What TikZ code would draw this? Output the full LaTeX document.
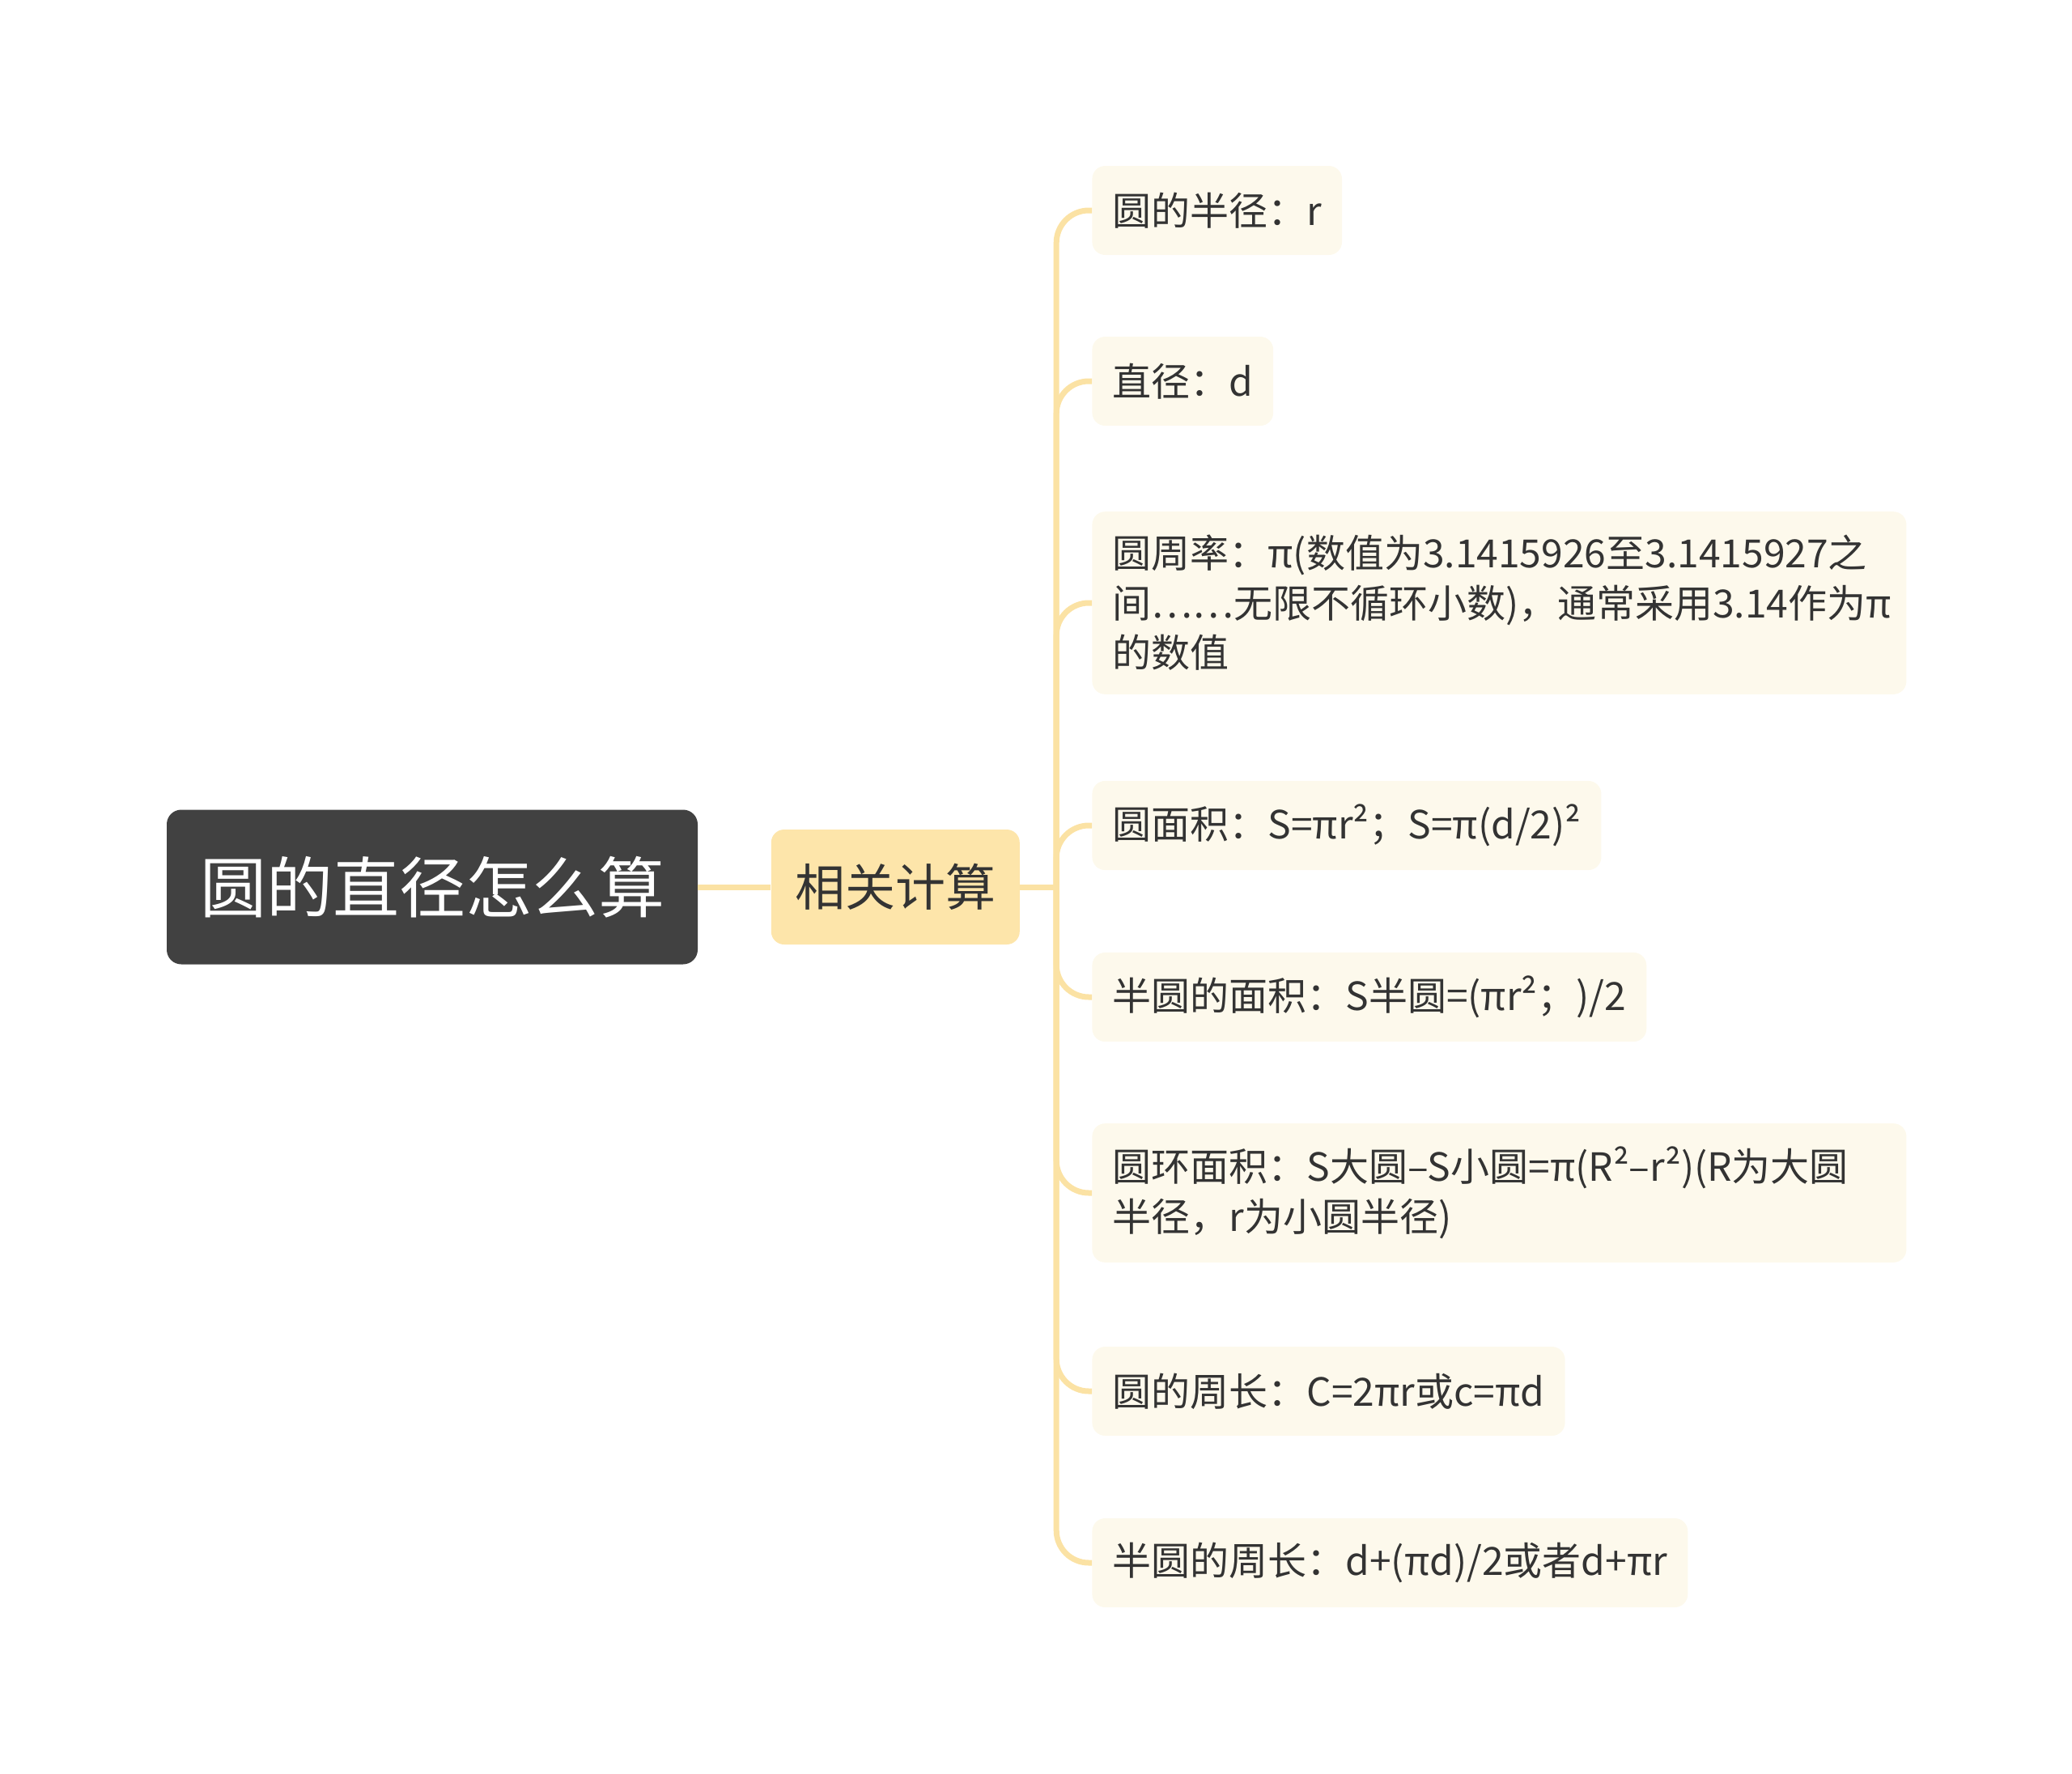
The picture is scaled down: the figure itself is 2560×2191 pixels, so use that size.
\documentclass[tikz,border=0pt]{standalone}
\usepackage{fontspec}
\setmainfont{Noto Sans CJK SC}
\usetikzlibrary{positioning}
\definecolor{rootgray}{HTML}{414141}
\definecolor{topicyellow}{HTML}{FDE5AA}
\definecolor{leafcream}{HTML}{FDF9EC}
\definecolor{linkyellow}{HTML}{FBE2A4}
\definecolor{inkgray}{HTML}{333333}

\begin{document}
\begin{tikzpicture}[x=0.5pt,y=-0.5pt,
    root/.style={fill=rootgray,text=white,rounded corners=9pt,minimum width=328pt,
        minimum height=95.5pt,font=\fontsize{41}{50}\selectfont},
    topic/.style={fill=topicyellow,text=inkgray,rounded corners=8pt,minimum width=153.5pt,
        minimum height=71pt,font=\fontsize{31}{38}\selectfont},
    leaf/.style={fill=leafcream,text=inkgray,rounded corners=8pt,anchor=west,align=left,
        inner xsep=12.5pt,inner ysep=14.5pt,minimum height=55pt,font=\fontsize{24}{30.75}\selectfont},
    wide/.style={text width=478pt},
    link/.style={draw=linkyellow,line width=3.5pt,rounded corners=20pt}]
    \useasboundingbox (0,0) rectangle (2560,2191);
    % Root, the one topic, and the hub where the spine starts
    \node[root]  (R) at (534,1096) {圆的直径怎么算};
    \node[topic] (T) [right=45pt of R] {相关计算};
    \coordinate (hub) at ([xshift=22.5pt]T.east);
    % Leaves, top to bottom
    \node[leaf]      (L1) at (1349,260)  {圆的半径：r};
    \node[leaf]      (L2) at (1349,471)  {直径：d};
    \node[leaf,wide] (L3) at (1349,745)  {圆周率：π(数值为3.1415926至3.1415927之\\间……无限不循环小数)，通常采用3.14作为π\\的数值};
    \node[leaf]      (L4) at (1349,1020) {圆面积：S=πr²；S=π(d/2)²};
    \node[leaf]      (L5) at (1349,1232) {半圆的面积：S半圆=(πr²；)/2};
    \node[leaf,wide] (L6) at (1349,1474) {圆环面积：S大圆–S小圆=π(R²–r²)(R为大圆\\半径，r为小圆半径)};
    \node[leaf]      (L7) at (1349,1719) {圆的周长：C=2πr或c=πd};
    \node[leaf]      (L8) at (1349,1931) {半圆的周长：d+(πd)/2或者d+πr};
    \draw[link] (R) -- (T) (T.east) -- (hub);
    \foreach \n in {1,...,8}
        \draw[link] (hub) |- (L\n.west);
\end{tikzpicture}
\end{document}
